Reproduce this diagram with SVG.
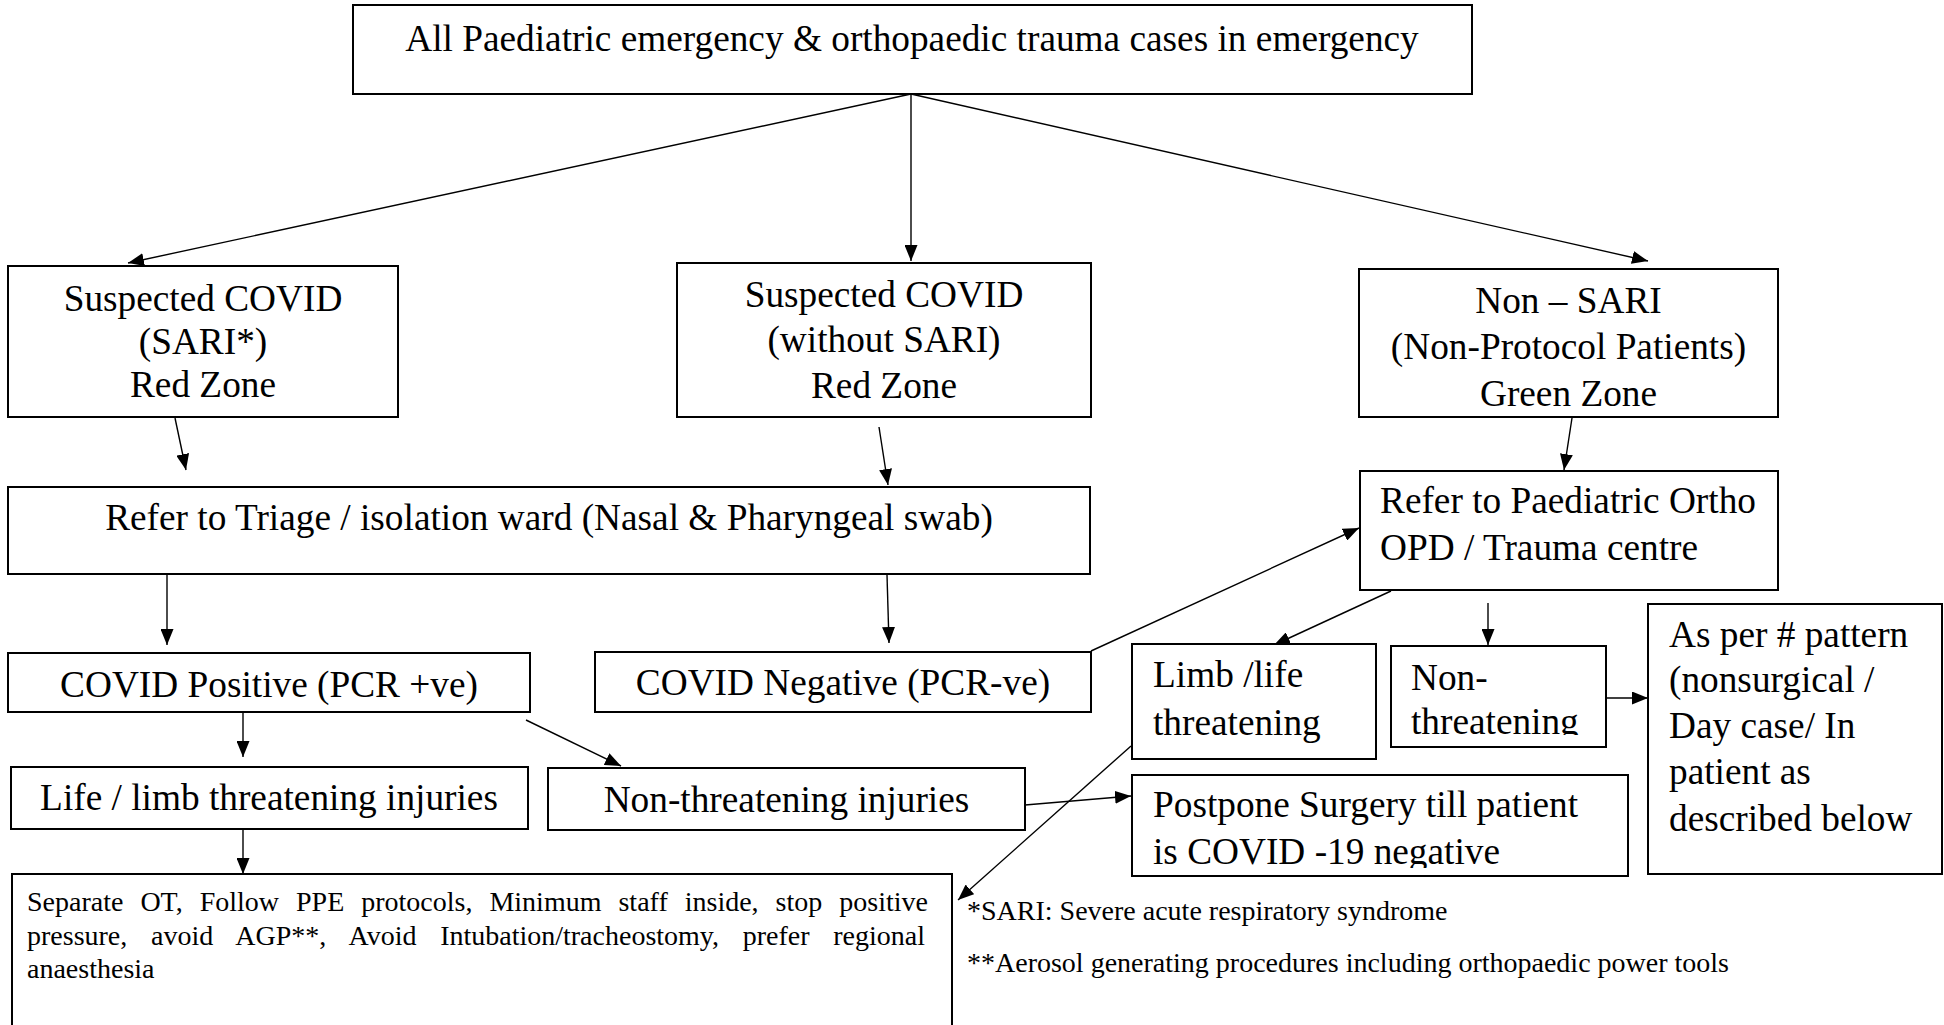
<svg xmlns="http://www.w3.org/2000/svg" width="1944" height="1025" viewBox="0 0 1944 1025">
<defs>
<style>
.box{fill:#fff;stroke:#000;stroke-width:2}
.t{font-family:"Liberation Serif","Times New Roman",serif;font-size:37.3px;fill:#000}
.c{text-anchor:middle}
.s{font-family:"Liberation Serif","Times New Roman",serif;font-size:28px;fill:#000}
.ln{stroke:#000;stroke-width:1.4;fill:none;marker-end:url(#ah)}
</style>
<marker id="ah" markerUnits="userSpaceOnUse" markerWidth="16" markerHeight="13" refX="16" refY="6.5" orient="auto">
<path d="M0,0 L16,6.5 L0,13 z" fill="#000"/>
</marker>
<clipPath id="cpNT"><rect x="1391" y="646" width="215" height="89"/></clipPath>
<clipPath id="cpPP"><rect x="1132" y="775" width="496" height="93"/></clipPath>
</defs>
<rect width="1944" height="1025" fill="#fff"/>

<g id="connectors">
<line class="ln" x1="911" y1="94" x2="128" y2="263"/>
<line class="ln" x1="911" y1="94" x2="911" y2="261"/>
<line class="ln" x1="911" y1="94" x2="1648" y2="261"/>
<line class="ln" x1="175" y1="418" x2="186" y2="470"/>
<line class="ln" x1="879" y1="427" x2="888" y2="485"/>
<line class="ln" x1="1572" y1="418" x2="1564" y2="470"/>
<line class="ln" x1="167" y1="574" x2="167" y2="645"/>
<line class="ln" x1="887" y1="575" x2="889" y2="643"/>
<line class="ln" x1="1091" y1="651" x2="1359" y2="528"/>
<line class="ln" x1="1391" y1="591" x2="1274" y2="645"/>
<line class="ln" x1="1488" y1="603" x2="1488" y2="645"/>
<line class="ln" x1="1606" y1="698" x2="1648" y2="698"/>
<line class="ln" x1="243" y1="712" x2="243" y2="757"/>
<line class="ln" x1="526" y1="720" x2="621" y2="766"/>
<line class="ln" x1="1025" y1="805" x2="1131" y2="796"/>
<line class="ln" x1="1131" y1="746" x2="958" y2="900"/>
<line class="ln" x1="243" y1="829" x2="243" y2="874"/>
</g>

<g id="n-all">
<rect class="box" x="353" y="5" width="1119" height="89"/>
<text class="t c" x="912" y="51">All Paediatric emergency &amp; orthopaedic trauma cases in emergency</text>
</g>

<g id="n-sari">
<rect class="box" x="8" y="266" width="390" height="151"/>
<text class="t c" x="203" y="311">Suspected COVID</text>
<text class="t c" x="203" y="354">(SARI*)</text>
<text class="t c" x="203" y="397">Red Zone</text>
</g>

<g id="n-nosari">
<rect class="box" x="677" y="263" width="414" height="154"/>
<text class="t c" x="884" y="307">Suspected COVID</text>
<text class="t c" x="884" y="352">(without SARI)</text>
<text class="t c" x="884" y="398">Red Zone</text>
</g>

<g id="n-green">
<rect class="box" x="1359" y="269" width="419" height="148"/>
<text class="t c" x="1568.5" y="313">Non – SARI</text>
<text class="t c" x="1568.5" y="359">(Non-Protocol Patients)</text>
<text class="t c" x="1568.5" y="406">Green Zone</text>
</g>

<g id="n-triage">
<rect class="box" x="8" y="487" width="1082" height="87"/>
<text class="t c" x="549" y="530">Refer to Triage / isolation ward (Nasal &amp; Pharyngeal swab)</text>
</g>

<g id="n-ortho">
<rect class="box" x="1360" y="471" width="418" height="119"/>
<text class="t" x="1380" y="513">Refer to Paediatric Ortho</text>
<text class="t" x="1380" y="560">OPD / Trauma centre</text>
</g>

<g id="n-pos">
<rect class="box" x="8" y="653" width="522" height="59"/>
<text class="t c" x="269" y="697">COVID Positive (PCR +ve)</text>
</g>

<g id="n-neg">
<rect class="box" x="595" y="652" width="496" height="60"/>
<text class="t c" x="843" y="695">COVID Negative (PCR-ve)</text>
</g>

<g id="n-limb">
<rect class="box" x="1132" y="644" width="244" height="115"/>
<text class="t" x="1153" y="687">Limb /life</text>
<text class="t" x="1153" y="735">threatening</text>
</g>

<g id="n-nonthr">
<rect class="box" x="1391" y="646" width="215" height="101"/>
<g clip-path="url(#cpNT)">
<text class="t" x="1411" y="690">Non-</text>
<text class="t" x="1411" y="734">threatening</text>
</g>
</g>

<g id="n-asper">
<rect class="box" x="1648" y="604" width="294" height="270"/>
<text class="t" x="1669" y="647">As per # pattern</text>
<text class="t" x="1669" y="692">(nonsurgical /</text>
<text class="t" x="1669" y="738">Day case/ In</text>
<text class="t" x="1669" y="784">patient as</text>
<text class="t" x="1669" y="831">described below</text>
</g>

<g id="n-lifeinj">
<rect class="box" x="11" y="767" width="517" height="62"/>
<text class="t c" x="269" y="810">Life / limb threatening injuries</text>
</g>

<g id="n-noninj">
<rect class="box" x="548" y="768" width="477" height="62"/>
<text class="t c" x="786.5" y="812">Non-threatening injuries</text>
</g>

<g id="n-postpone">
<rect class="box" x="1132" y="775" width="496" height="101"/>
<g clip-path="url(#cpPP)">
<text class="t" x="1153" y="817">Postpone Surgery till patient</text>
<text class="t" x="1153" y="864">is COVID -19 negative</text>
</g>
</g>

<g id="n-separate">
<rect class="box" x="12" y="874" width="940" height="160"/>
<text class="s" x="27" y="911" word-spacing="10">Separate OT, Follow PPE protocols, Minimum staff inside, stop positive</text>
<text class="s" x="27" y="945" word-spacing="16.7">pressure, avoid AGP**, Avoid Intubation/tracheostomy, prefer regional</text>
<text class="s" x="27" y="978">anaesthesia</text>
</g>

<g id="footnotes">
<text class="s" x="967" y="920">*SARI: Severe acute respiratory syndrome</text>
<text class="s" x="967" y="972">**Aerosol generating procedures including orthopaedic power tools</text>
</g>
</svg>
